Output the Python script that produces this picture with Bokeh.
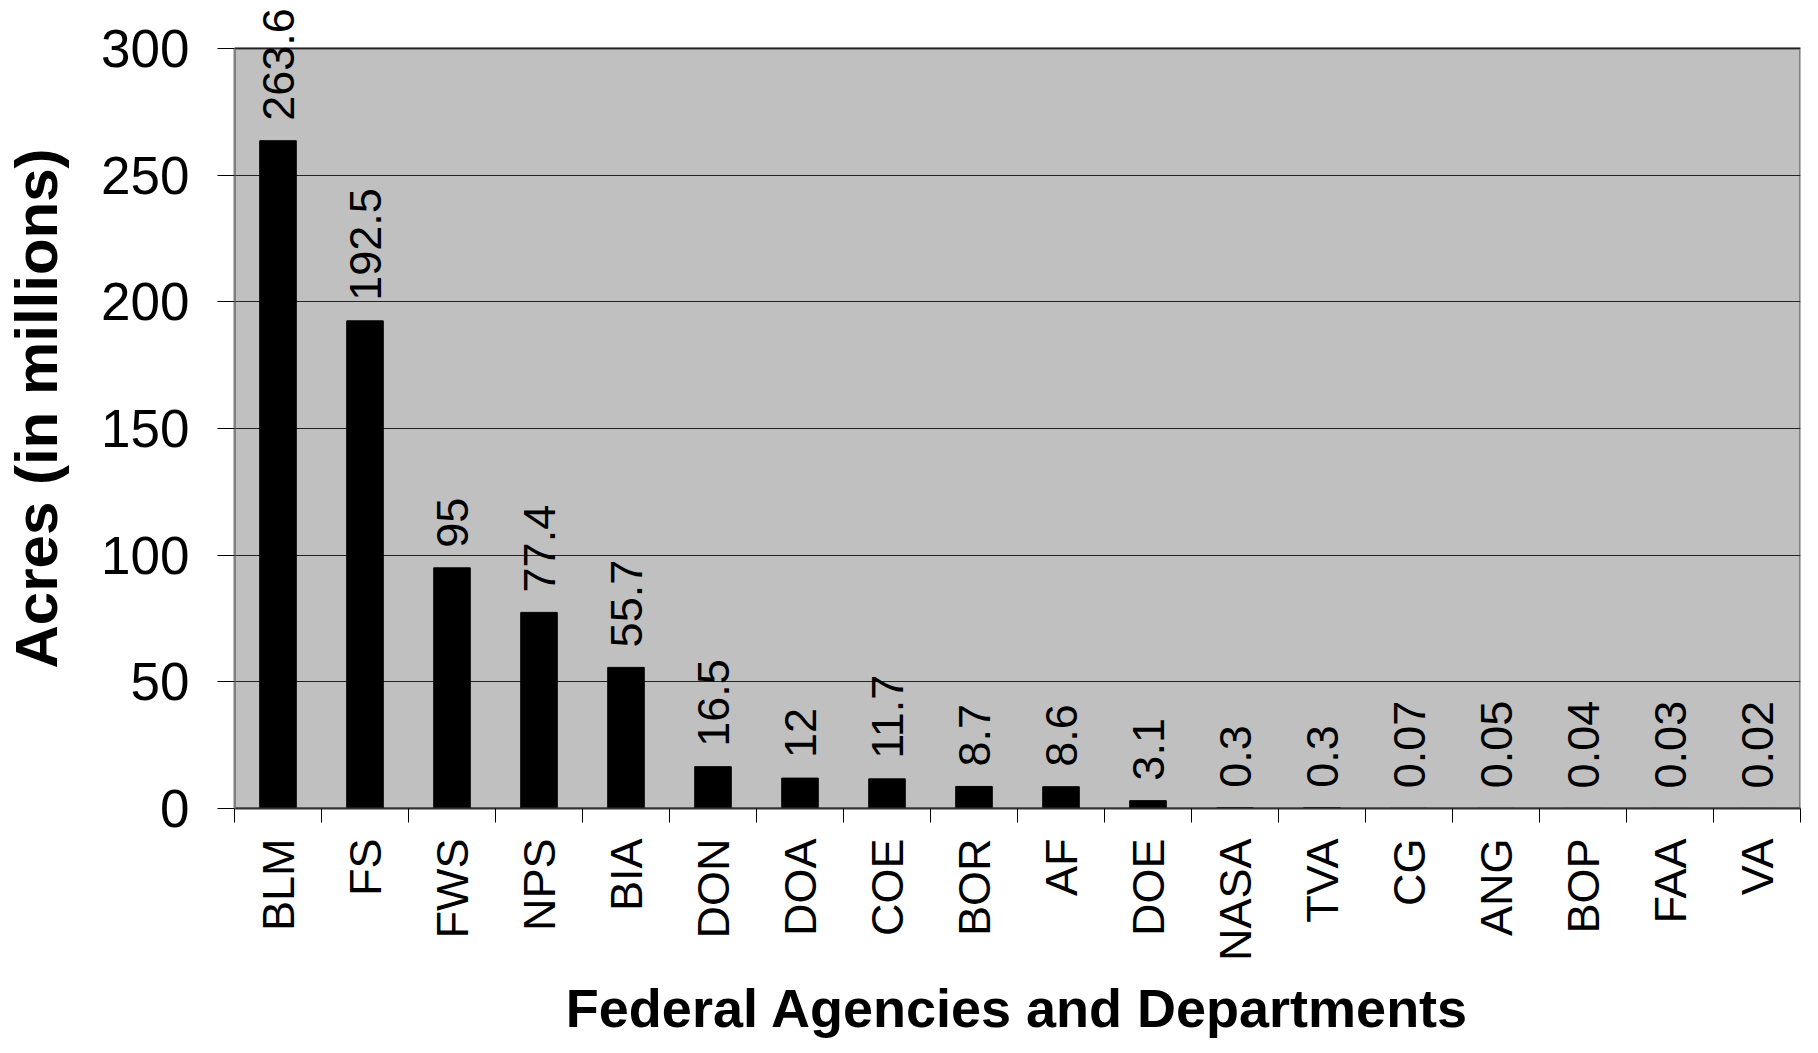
import numpy as np
from bokeh.plotting import figure
from bokeh.models import ColumnDataSource, FixedTicker, Range1d
from bokeh.core.properties import value
from bokeh.embed import file_html
from bokeh.resources import INLINE

agencies = ["BLM", "FS", "FWS", "NPS", "BIA", "DON", "DOA", "COE", "BOR", "AF",
            "DOE", "NASA", "TVA", "CG", "ANG", "BOP", "FAA", "VA"]
acres = [263.6, 192.5, 95, 77.4, 55.7, 16.5, 12, 11.7, 8.7, 8.6,
         3.1, 0.3, 0.3, 0.07, 0.05, 0.04, 0.03, 0.02]
y_ticks = [0, 50, 100, 150, 200, 250, 300]
y_max = 300
x_title = "Federal Agencies and Departments"
y_title = "Acres (in millions)"

n = len(agencies)
pos = list(range(1, n + 1))
src = ColumnDataSource(dict(x=pos, top=acres, lab=[f"{v:g}" for v in acres]))

FONT = "Liberation Sans"

# frame extends a little above the 300 line so the tallest value label is not clipped
p = figure(width=1806, height=1045, output_backend="svg", toolbar_location=None,
           x_range=Range1d(0.5, n + 0.5), y_range=Range1d(0, y_max * 800 / 760),
           min_border_left=227, min_border_top=8, min_border_right=6,
           min_border_bottom=237)
p.background_fill_color = "white"
p.border_fill_color = "white"
p.outline_line_color = None

# grey plotting area (0..300)
area = p.quad(left=[0.5], right=[n + 0.5], bottom=[0], top=[y_max],
              fill_color="#C0C0C0", line_color="#808080", line_width=3)
area.level = "image"

p.vbar(x="x", top="top", width=0.42, bottom=0, source=src,
       fill_color="black", line_color="black")

p.text(x="x", y="top", text="lab", source=src, angle=np.pi / 2,
       text_align="left", text_baseline="middle", y_offset=-20,
       text_font=value(FONT), text_font_size="45px", text_color="black")

# y axis
p.yaxis.ticker = FixedTicker(ticks=y_ticks)
p.yaxis.bounds = (0, y_max)
p.yaxis.major_label_text_font = FONT
p.yaxis.major_label_text_font_size = "53px"
p.yaxis.major_label_text_color = "black"
p.yaxis.major_tick_out = 17
p.yaxis.major_tick_in = 0
p.yaxis.major_tick_line_color = "black"
p.yaxis.minor_tick_line_color = None
p.yaxis.major_label_standoff = 28
p.yaxis.axis_line_color = "#808080"
p.yaxis.axis_line_width = 2
p.yaxis.axis_label = y_title
p.yaxis.axis_label_text_font = FONT
p.yaxis.axis_label_text_font_style = "bold"
p.yaxis.axis_label_text_font_size = "60px"
p.yaxis.axis_label_text_color = "black"
p.yaxis.axis_label_standoff = 28

# x axis
p.xaxis.ticker = FixedTicker(ticks=pos, minor_ticks=[i + 0.5 for i in range(0, n + 1)])
p.xaxis.major_label_overrides = {i: a for i, a in zip(pos, agencies)}
p.xaxis.major_label_orientation = np.pi / 2
p.xaxis.major_label_text_font = FONT
p.xaxis.major_label_text_font_size = "45px"
p.xaxis.major_label_text_color = "black"
p.xaxis.major_tick_out = 14
p.xaxis.major_tick_in = 0
p.xaxis.major_tick_line_color = None
p.xaxis.minor_tick_out = 14
p.xaxis.minor_tick_in = 0
p.xaxis.minor_tick_line_color = "black"
p.xaxis.major_label_standoff = 16
p.xaxis.axis_line_color = "#333333"
p.xaxis.axis_line_width = 2
p.xaxis.axis_label = x_title
p.xaxis.axis_label_text_font = FONT
p.xaxis.axis_label_text_font_style = "bold"
p.xaxis.axis_label_text_font_size = "54px"
p.xaxis.axis_label_text_color = "black"
p.xaxis.axis_label_standoff = 14

p.xgrid.grid_line_color = None
p.ygrid.ticker = FixedTicker(ticks=y_ticks)
p.ygrid.grid_line_color = "#222222"
p.ygrid.grid_line_width = 1

open("out.html", "w").write(file_html(p, INLINE))
